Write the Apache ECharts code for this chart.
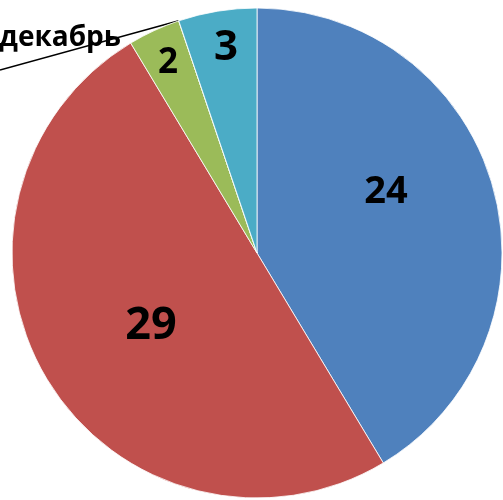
<!DOCTYPE html>
<html>
<head>
<meta charset="utf-8">
<script src="https://cdn.jsdelivr.net/npm/echarts@6/dist/echarts.min.js"></script>
<style>html,body{margin:0;padding:0;background:#fff}#c{width:503px;height:500px}</style>
</head>
<body>
<div id="c"></div>
<script>
var categories = ['сентябрь', 'октябрь', 'ноябрь', 'декабрь', 'январь'];
var values = [24, 29, 2, 0, 3];
var colors = ['#4F81BD', '#C0504D', '#9BBB59', '#F79646', '#4BACC6'];

// label placement and sizes (style, not data)
var labelPos = [[386, 192], [151, 326], [168, 63], [121, 38], [226, 48]];
var labelSize = [38, 45, 35, 28, 42];

var chart = echarts.init(document.getElementById('c'), null, {renderer: 'canvas'});
var data = categories.map(function (n, i) {
  var isZero = values[i] === 0;
  return {
    name: n,
    value: values[i],
    itemStyle: {color: colors[i]},
    label: {
      show: true,
      formatter: isZero ? '{b}' : '{c}',
      position: isZero ? 'outside' : 'inside',
      fontSize: labelSize[i],
      fontWeight: 'bold',
      color: '#000',
      fontFamily: 'Open Sans'
    },
    labelLine: {show: isZero, lineStyle: {color: '#000', width: 1.5}, smooth: false}
  };
});
chart.setOption({
  animation: false,
  series: [{
    type: 'pie',
    center: [257, 253],
    radius: [0, 245],
    startAngle: 90,
    clockwise: true,
    avoidLabelOverlap: false,
    itemStyle: {borderColor: '#ffffff', borderWidth: 0.8},
    data: data,
    labelLayout: function (p) {
      var i = p.dataIndex;
      var r = {x: labelPos[i][0], y: labelPos[i][1], verticalAlign: 'middle'};
      if (values[i] === 0) {
        r.align = 'right';
        if (p.labelLinePoints) {
          var s = p.labelLinePoints[0];
          r.labelLinePoints = [[s[0], s[1]], [0, 70], [0, 70]];
        }
      } else {
        r.align = 'center';
      }
      return r;
    }
  }]
});
</script>
</body>
</html>
